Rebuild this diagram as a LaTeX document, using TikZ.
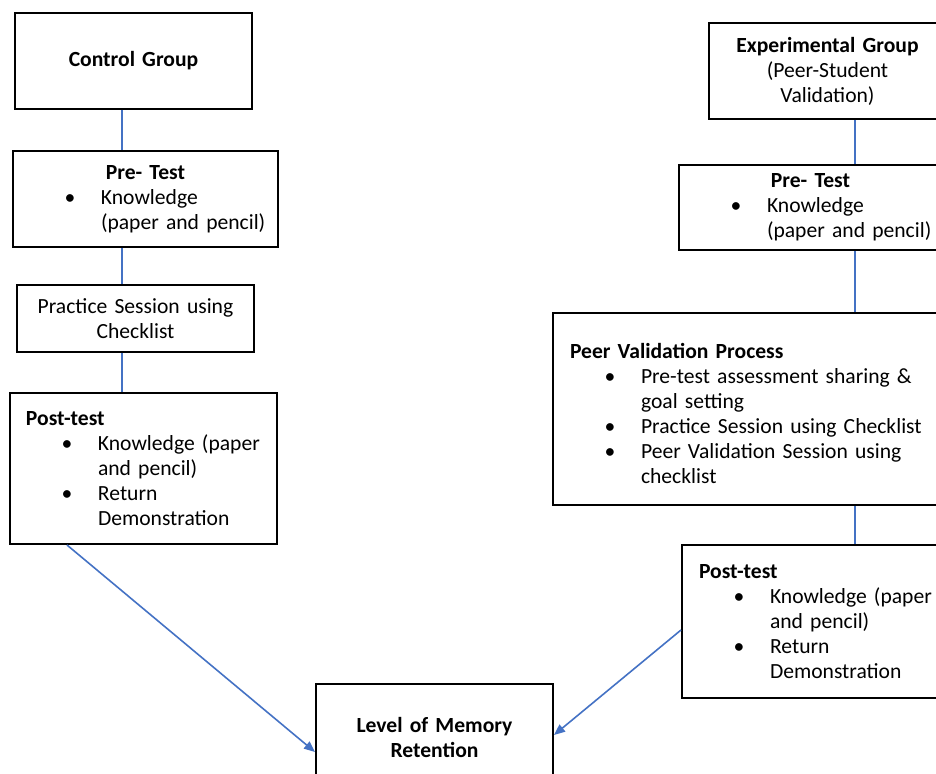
\documentclass[tikz,border=0pt]{standalone}
\usepackage{fontspec}
\setmainfont{Carlito}
\usetikzlibrary{arrows.meta}
\definecolor{wordblue}{HTML}{4472C4}
\newcommand\fs{\fontsize{10.8pt}{12.5pt}\selectfont}
\newcommand\bitem[1]{\hspace*{28.5pt}\makebox[0pt]{\textbullet}\hspace*{15.5pt}#1}
\newcommand\bcont[1]{\hspace*{44pt}#1}
\newcommand\ctr[1]{\makebox[\linewidth][c]{#1}}
\begin{document}
\begin{tikzpicture}[x=0.5pt,y=-0.5pt,
  box/.style={draw, line width=1pt, inner sep=0pt, anchor=north west, font=\fs},
  cbox/.style={box, align=center},
  lbox/.style={box, align=left},
  conn/.style={draw=wordblue, line width=0.55pt},
  arr/.style={draw=wordblue, line width=0.8pt, -{Triangle[length=5.5pt,width=4.5pt]}}]
\useasboundingbox (0,0) rectangle (936,774);
\clip (0,0) rectangle (936,774);
% left column
\node[cbox, minimum width=118.5pt, minimum height=48pt, text width=118.5pt] (cg) at (14,12) {\textbf{Control Group}};
\node[lbox, minimum width=132.5pt, minimum height=48pt, text width=132.5pt] (pre1) at (12,150)
  {\ctr{\textbf{Pre- Test}}\\ \bitem{Knowledge}\\ \bcont{(paper and pencil)}};
\node[cbox, minimum width=118.5pt, minimum height=33.5pt, text width=118.5pt] (prac) at (16,284)
  {Practice Session using\\ Checklist};
\node[lbox, minimum width=133.5pt, minimum height=75.5pt, text width=133.5pt] (post1) at (9,392)
  {\hspace*{8pt}\textbf{Post-test}\\ \bitem{Knowledge (paper}\\ \bcont{and pencil)}\\ \bitem{Return}\\ \bcont{Demonstration}};
% right column
\node[cbox, minimum width=118.5pt, minimum height=48pt, text width=118.5pt] (eg) at (708,22)
  {\textbf{Experimental Group}\\ (Peer-Student\\ Validation)};
\node[lbox, minimum width=131.5pt, minimum height=42.5pt, text width=131.5pt] (pre2) at (678,164)
  {\ctr{\textbf{Pre- Test}}\\ \bitem{Knowledge}\\ \bcont{(paper and pencil)}};
\node[lbox, minimum width=195.5pt, minimum height=96pt, text width=195.5pt] (pvp) at (552,312)
  {\mbox{}\\ \hspace*{8.5pt}\textbf{Peer Validation Process}\\ \bitem{Pre-test assessment sharing \&}\\ \bcont{goal setting}\\ \bitem{Practice Session using Checklist}\\ \bitem{Peer Validation Session using}\\ \bcont{checklist}};
\node[lbox, minimum width=131pt, minimum height=76.5pt, text width=131pt] (post2) at (681,544)
  {\hspace*{8.5pt}\textbf{Post-test}\\ \bitem{Knowledge (paper}\\ \bcont{and pencil)}\\ \bitem{Return}\\ \bcont{Demonstration}};
% bottom
\node[cbox, minimum width=118.5pt, minimum height=53.5pt, text width=118.5pt] (lvl) at (315,683)
  {\textbf{Level of Memory}\\ \textbf{Retention}};
% connectors
\coordinate (lx) at (122,0);
\coordinate (rx) at (855,0);
\draw[conn] (cg.south -| lx) -- (pre1.north -| lx);
\draw[conn] (pre1.south -| lx) -- (prac.north -| lx);
\draw[conn] (prac.south -| lx) -- (post1.north -| lx);
\draw[conn] (eg.south -| rx) -- (pre2.north -| rx);
\draw[conn] (pre2.south -| rx) -- (pvp.north -| rx);
\draw[conn] (pvp.south -| rx) -- (post2.north -| rx);
\draw[arr] ([xshift=29pt]post1.south west) -- ([yshift=-34.5pt]lvl.north west);
\draw[arr] ([yshift=-43pt]post2.north west) -- ([yshift=-26pt]lvl.north east);
\end{tikzpicture}
\end{document}
